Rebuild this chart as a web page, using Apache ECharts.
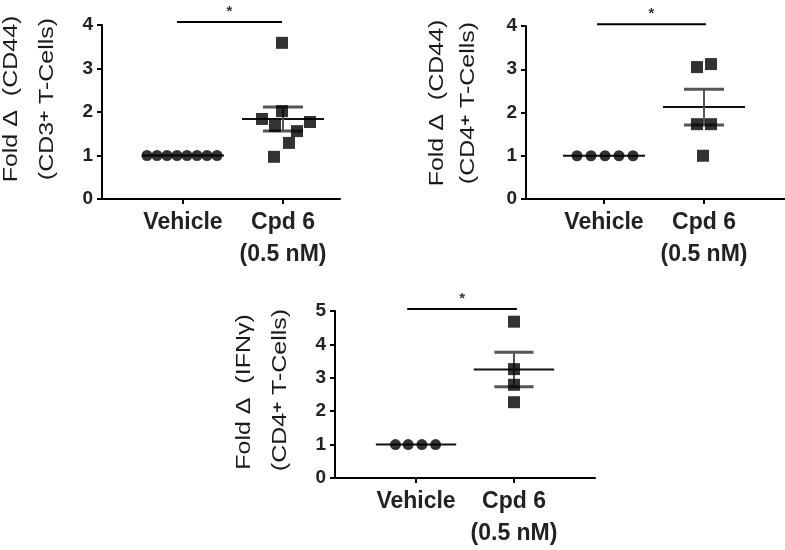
<!DOCTYPE html>
<html>
<head>
<meta charset="utf-8">
<script src="https://cdn.jsdelivr.net/npm/echarts@6/dist/echarts.min.js"></script>
<style>
html, body { margin: 0; padding: 0; background: #fff; }
#chart { width: 785px; height: 550px; }
</style>
</head>
<body>
<div id="chart"></div>
<script>
// group names on the x axis (x = 1 Vehicle, x = 2 Cpd 6)
const groupNames = ['Vehicle', 'Cpd 6\n(0.5 nM)']

// panel A: Fold change CD44, CD3+ T-cells
const cd3VehicleX = [0.64, 0.74, 0.84, 0.94, 1.04, 1.14, 1.24, 1.34]
const cd3VehicleY = [1, 1, 1, 1, 1, 1, 1, 1]
const cd3CpdX = [1.99, 1.99, 1.79, 1.92, 2.27, 2.14, 2.06, 1.91]
const cd3CpdY = [3.59, 2.02, 1.84, 1.68, 1.77, 1.56, 1.29, 0.97]

// panel B: Fold change CD44, CD4+ T-cells
const cd4VehicleX = [0.73, 0.87, 1.01, 1.15, 1.29]
const cd4VehicleY = [1, 1, 1, 1, 1]
const cd4CpdX = [1.93, 2.07, 1.93, 2.07, 1.99]
const cd4CpdY = [3.05, 3.12, 1.73, 1.73, 1.0]

// panel C: Fold change IFNγ, CD4+ T-cells
const ifnVehicleX = [0.79, 0.92, 1.06, 1.20]
const ifnVehicleY = [1, 1, 1, 1]
const ifnCpdX = [2, 2, 2, 2]
const ifnCpdY = [4.68, 3.26, 2.79, 2.27]

// y axis tops and significance bars [x from, x to, y]
const yMaxes = [4, 4, 5]
const sigBars = [[0.94, 1.99, 4.07], [0.93, 2.02, 4.04], [0.91, 2.03, 5.06]]

const zip = (xs, ys) => xs.map((x, i) => [x, ys[i]])

// mean +/- SEM
const meanSem = ys => {
  const n = ys.length
  const m = ys.reduce((a, b) => a + b, 0) / n
  const sd = Math.sqrt(ys.reduce((a, b) => a + (b - m) * (b - m), 0) / (n - 1))
  return [m, sd / Math.sqrt(n)]
}

const panels = [
  { veh: zip(cd3VehicleX, cd3VehicleY), cpd: zip(cd3CpdX, cd3CpdY), vy: cd3VehicleY, cy: cd3CpdY },
  { veh: zip(cd4VehicleX, cd4VehicleY), cpd: zip(cd4CpdX, cd4CpdY), vy: cd4VehicleY, cy: cd4CpdY },
  { veh: zip(ifnVehicleX, ifnVehicleY), cpd: zip(ifnCpdX, ifnCpdY), vy: ifnVehicleY, cy: ifnCpdY }
]

const grids = [
  { left: 102, top: 25, width: 238, height: 174 },
  { left: 526, top: 26, width: 259, height: 173 },
  { left: 335, top: 311, width: 260, height: 172 }
]
const xRanges = [[0.19, 2.57], [0.22, 2.81], [0.173, 2.827]]

const font = 'Liberation Sans, Arial, sans-serif'

const renderErr = (params, api) => {
  const x = api.value(0), m = api.value(1), s = api.value(2)
  const c = api.coord([x, m])
  const top = api.coord([x, m + s])
  const bot = api.coord([x, m - s])
  const hw = api.size([0.41, 0])[0]
  const cw = api.size([0.2, 0])[0]
  const children = [
    { type: 'line', shape: { x1: c[0] - hw, y1: c[1], x2: c[0] + hw, y2: c[1] }, style: { stroke: '#111', lineWidth: 2 } }
  ]
  if (s > 0) {
    children.push(
      { type: 'line', shape: { x1: c[0], y1: top[1], x2: c[0], y2: bot[1] }, style: { stroke: '#555', lineWidth: 2 } },
      { type: 'line', shape: { x1: c[0] - cw, y1: top[1], x2: c[0] + cw, y2: top[1] }, style: { stroke: '#555', lineWidth: 3 } },
      { type: 'line', shape: { x1: c[0] - cw, y1: bot[1], x2: c[0] + cw, y2: bot[1] }, style: { stroke: '#555', lineWidth: 3 } }
    )
  }
  return { type: 'group', children }
}

const xAxis = grids.map((g, i) => ({
  type: 'value',
  gridIndex: i,
  min: xRanges[i][0],
  max: xRanges[i][1],
  splitLine: { show: false },
  axisLine: { show: true, lineStyle: { color: '#000', width: 2 } },
  axisTick: { show: true, customValues: [1, 2], length: 5, lineStyle: { color: '#000', width: 2 } },
  axisLabel: {
    customValues: [1, 2],
    formatter: v => groupNames[Math.round(v) - 1],
    fontFamily: font, fontWeight: 'bold', fontSize: 23, lineHeight: 32,
    color: '#222', margin: 8
  }
}))

const yAxis = grids.map((g, i) => ({
  type: 'value',
  gridIndex: i,
  min: 0,
  max: yMaxes[i],
  interval: 1,
  splitLine: { show: false },
  axisLine: { show: true, lineStyle: { color: '#000', width: 2 } },
  axisTick: { show: true, length: 5, lineStyle: { color: '#000', width: 2 } },
  axisLabel: { fontFamily: font, fontWeight: 'bold', fontSize: 19, color: '#222', margin: 9 }
}))

const series = []
panels.forEach((p, i) => {
  const v = meanSem(p.vy), c = meanSem(p.cy)
  series.push({
    type: 'custom', xAxisIndex: i, yAxisIndex: i, z: 1, silent: true,
    renderItem: renderErr,
    data: [[1, v[0], v[1]], [2, c[0], c[1]]]
  })
  series.push({
    type: 'scatter', xAxisIndex: i, yAxisIndex: i, z: 3, silent: true,
    symbol: 'circle', symbolSize: 11, itemStyle: { color: '#000' },
    data: p.veh
  })
  series.push({
    type: 'scatter', xAxisIndex: i, yAxisIndex: i, z: 3, silent: true,
    symbol: 'rect', symbolSize: 12, itemStyle: { color: '#000' },
    data: p.cpd
  })
  const b = sigBars[i]
  series.push({
    type: 'line', xAxisIndex: i, yAxisIndex: i, clip: false, silent: true,
    symbol: 'none', lineStyle: { color: '#000', width: 2 },
    data: [[b[0], b[2]], [b[1], b[2]]]
  })
  series.push({
    type: 'scatter', xAxisIndex: i, yAxisIndex: i, clip: false, silent: true,
    symbolSize: 0,
    label: { show: true, position: 'top', distance: 3, formatter: '*', fontFamily: font, fontWeight: 'bold', fontSize: 15, color: '#000' },
    data: [[(b[0] + b[1]) / 2, b[2]]]
  })
})

// rotated two-line y axis titles
const yTitle = (x, y, text) => ({
  type: 'text', x, y, rotation: Math.PI / 2, scaleX: 1.25,
  style: {
    text, fontFamily: font, fontSize: 20, fill: '#1a1a1a', align: 'center', verticalAlign: 'middle',
    rich: { sup: { fontSize: 15, fontWeight: 'bold', verticalAlign: 'top', fill: '#1a1a1a', fontFamily: font } }
  }
})

const graphic = [
  yTitle(11, 99, 'Fold \u0394  (CD44)'),
  yTitle(47, 99, '(CD3{sup|+} T-Cells)'),
  yTitle(437, 103, 'Fold \u0394  (CD44)'),
  yTitle(468, 103, '(CD4{sup|+} T-Cells)'),
  yTitle(244, 392, 'Fold \u0394  (IFN\u03b3)'),
  yTitle(280, 390, '(CD4{sup|+} T-Cells)')
]

const chart = echarts.init(document.getElementById('chart'))
chart.setOption({
  animation: false,
  backgroundColor: '#fff',
  grid: grids,
  xAxis,
  yAxis,
  series,
  graphic
})
</script>
</body>
</html>
